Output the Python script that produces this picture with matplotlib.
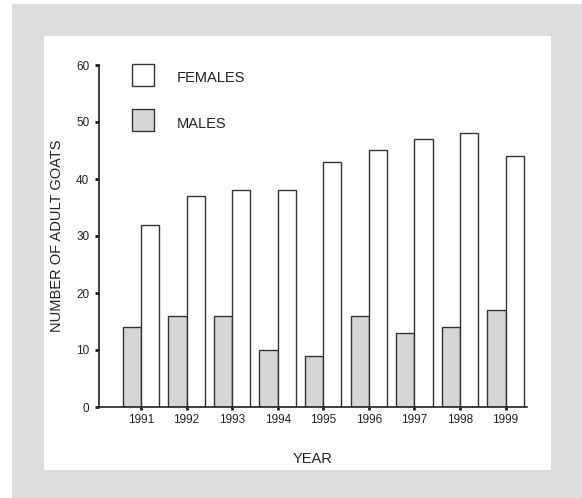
import matplotlib.pyplot as plt
import numpy as np
from matplotlib.patches import Rectangle

plt.rcParams['font.family'] = ['Liberation Sans', 'DejaVu Sans']

years = ['1991', '1992', '1993', '1994', '1995', '1996', '1997', '1998', '1999']
males = [14, 16, 16, 10, 9, 16, 13, 14, 17]
females = [32, 37, 38, 38, 43, 45, 47, 48, 44]

W, H = 582, 498
fig = plt.figure(figsize=(W / 100, H / 100), dpi=100)
fig.patch.set_facecolor('white')

# fond gris puis panneau blanc
fig.patches.append(Rectangle((12 / W, 0), 1 - 12 / W, 1 - 4 / H,
                             transform=fig.transFigure, facecolor='#dcdcde',
                             edgecolor='none', zorder=-2))
fig.patches.append(Rectangle((44 / W, 1 - 470 / H), (551 - 44) / W, (470 - 36) / H,
                             transform=fig.transFigure, facecolor='white',
                             edgecolor='none', zorder=-1))

ax = fig.add_axes([99 / W, 1 - 407 / H, (527 - 99) / W, (407 - 65) / H])
ax.set_facecolor('none')

x = np.arange(len(years))
w = 0.4
ax.bar(x - w / 2, males, w, color='#d6d6d8', edgecolor='#333333', linewidth=1)
ax.bar(x + w / 2, females, w, color='white', edgecolor='#333333', linewidth=1)

ax.set_xlim(-0.92, 8.47)
ax.set_ylim(0, 60)
ax.set_xticks(x)
ax.set_xticklabels(years, fontsize=8.5, color='#222222')
ax.set_yticks(range(0, 61, 10))
ax.tick_params(axis='y', labelsize=8.5, length=3, width=2, direction='out',
               colors='#222222', pad=4)
ax.tick_params(axis='x', length=2, width=2, direction='out', colors='#222222', pad=3)
for s in ['top', 'right']:
    ax.spines[s].set_visible(False)
for s in ['left', 'bottom']:
    ax.spines[s].set_color('#222222')
    ax.spines[s].set_linewidth(1.2)

# légende dessinée à la main
for yy, col, lab in [(64, 'white', 'FEMALES'), (109, '#d6d6d8', 'MALES')]:
    fig.patches.append(Rectangle((132 / W, 1 - (yy + 22) / H), 22 / W, 22 / H,
                                 transform=fig.transFigure, facecolor=col,
                                 edgecolor='#333333', linewidth=1))
    fig.text(177 / W, 1 - (yy + 14.5) / H, lab, fontsize=10.5, va='center',
             ha='left', color='#222222')

fig.text(313 / W, 1 - 459 / H, 'YEAR', fontsize=10.5, ha='center', va='center',
         color='#222222')
fig.text(57 / W, 1 - 236 / H, 'NUMBER OF ADULT GOATS', fontsize=10.5,
         rotation=90, ha='center', va='center', color='#222222')

plt.savefig('out.png', dpi=100)
